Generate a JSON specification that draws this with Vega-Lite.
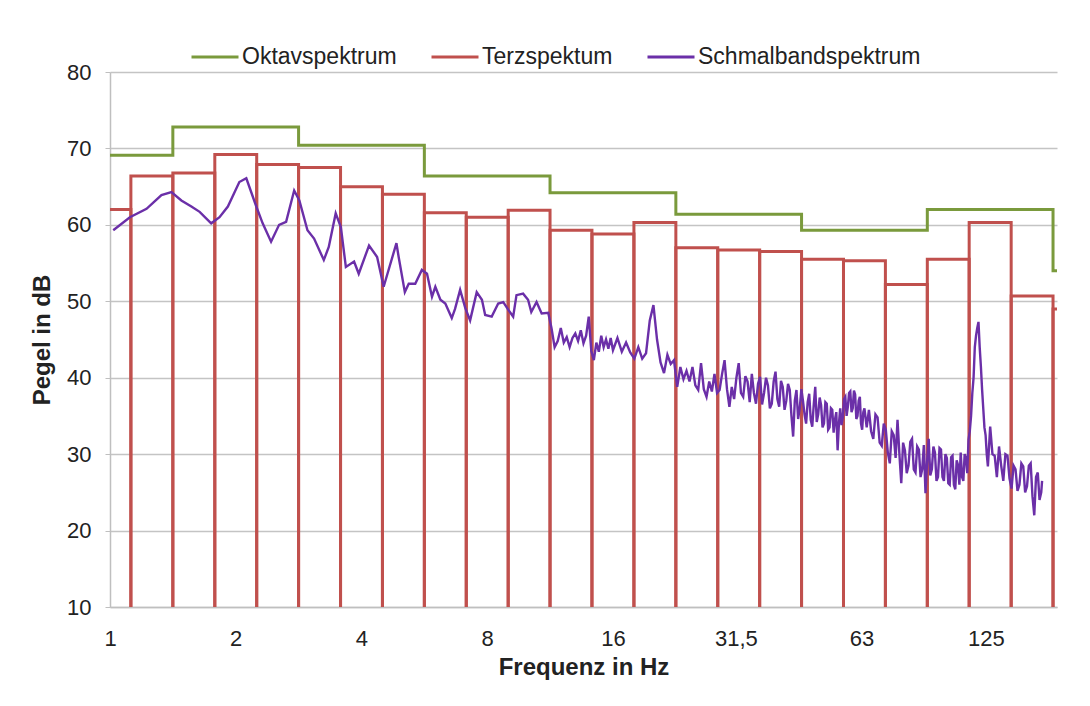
{
  "$schema": "https://vega.github.io/schema/vega-lite/v6.json",
  "width": 947,
  "height": 535,
  "autosize": "none",
  "padding": {"left": 110, "top": 72, "right": 33, "bottom": 99},
  "background": "white",
  "config": {
    "font": "Liberation Sans",
    "view": {"stroke": null},
    "axis": {"labelColor": "#222222", "titleColor": "#222222", "domainColor": "#BFBFBF", "domainWidth": 1.5, "tickColor": "#BFBFBF"}
  },
  "datasets": {
    "oktav": [
      {"f": 0.707, "db": 69.1},
      {"f": 1.414, "db": 72.8},
      {"f": 2.828, "db": 70.4},
      {"f": 5.657, "db": 66.4},
      {"f": 11.31, "db": 64.2},
      {"f": 22.63, "db": 61.4},
      {"f": 45.25, "db": 59.3},
      {"f": 90.51, "db": 62.0},
      {"f": 181.0, "db": 54.0},
      {"f": 362.0, "db": 54.0}
    ],
    "terz": [
      {"lo": 0.891, "hi": 1.122, "db": 62.0},
      {"lo": 1.122, "hi": 1.414, "db": 66.4},
      {"lo": 1.414, "hi": 1.782, "db": 66.8},
      {"lo": 1.782, "hi": 2.245, "db": 69.2},
      {"lo": 2.245, "hi": 2.828, "db": 67.9},
      {"lo": 2.828, "hi": 3.564, "db": 67.5},
      {"lo": 3.564, "hi": 4.490, "db": 65.0},
      {"lo": 4.490, "hi": 5.657, "db": 64.0},
      {"lo": 5.657, "hi": 7.127, "db": 61.6},
      {"lo": 7.127, "hi": 8.980, "db": 61.0},
      {"lo": 8.980, "hi": 11.31, "db": 61.9},
      {"lo": 11.31, "hi": 14.25, "db": 59.3},
      {"lo": 14.25, "hi": 17.96, "db": 58.8},
      {"lo": 17.96, "hi": 22.63, "db": 60.3},
      {"lo": 22.63, "hi": 28.51, "db": 57.0},
      {"lo": 28.51, "hi": 35.92, "db": 56.7},
      {"lo": 35.92, "hi": 45.25, "db": 56.5},
      {"lo": 45.25, "hi": 57.02, "db": 55.5},
      {"lo": 57.02, "hi": 71.84, "db": 55.3},
      {"lo": 71.84, "hi": 90.51, "db": 52.2},
      {"lo": 90.51, "hi": 114.0, "db": 55.5},
      {"lo": 114.0, "hi": 143.7, "db": 60.3},
      {"lo": 143.7, "hi": 181.0, "db": 50.7},
      {"lo": 181.0, "hi": 228.1, "db": 49.0}
    ],
    "schmal": [
      {"f": 1.018, "db": 59.3}, {"f": 1.116, "db": 61.0}, {"f": 1.223, "db": 62.1}, {"f": 1.328, "db": 63.9},
      {"f": 1.403, "db": 64.3}, {"f": 1.482, "db": 63.2}, {"f": 1.566, "db": 62.4}, {"f": 1.639, "db": 61.7},
      {"f": 1.747, "db": 60.2}, {"f": 1.829, "db": 61.0}, {"f": 1.915, "db": 62.4}, {"f": 2.04, "db": 65.6},
      {"f": 2.12, "db": 66.1}, {"f": 2.24, "db": 62.4}, {"f": 2.32, "db": 60.2}, {"f": 2.43, "db": 57.8},
      {"f": 2.54, "db": 60.0}, {"f": 2.64, "db": 60.4}, {"f": 2.76, "db": 64.5}, {"f": 2.84, "db": 63.2},
      {"f": 2.97, "db": 59.3}, {"f": 3.08, "db": 58.2}, {"f": 3.25, "db": 55.4}, {"f": 3.34, "db": 57.1},
      {"f": 3.47, "db": 61.5}, {"f": 3.57, "db": 59.7}, {"f": 3.67, "db": 54.5}, {"f": 3.84, "db": 55.2},
      {"f": 3.94, "db": 53.6}, {"f": 4.17, "db": 57.3}, {"f": 4.36, "db": 55.8}, {"f": 4.52, "db": 51.9},
      {"f": 4.85, "db": 57.6}, {"f": 4.91, "db": 55.8}, {"f": 5.08, "db": 51.2}, {"f": 5.19, "db": 52.3},
      {"f": 5.38, "db": 52.3}, {"f": 5.58, "db": 54.1}, {"f": 5.74, "db": 53.6}, {"f": 5.90, "db": 50.6},
      {"f": 6.01, "db": 51.9}, {"f": 6.18, "db": 50.2}, {"f": 6.35, "db": 49.7}, {"f": 6.58, "db": 47.8},
      {"f": 6.70, "db": 49.0}, {"f": 6.89, "db": 51.5}, {"f": 7.09, "db": 49.1}, {"f": 7.28, "db": 47.5},
      {"f": 7.55, "db": 51.2}, {"f": 7.77, "db": 50.2}, {"f": 7.91, "db": 48.2}, {"f": 8.20, "db": 48.0},
      {"f": 8.50, "db": 49.7}, {"f": 8.74, "db": 49.9}, {"f": 8.98, "db": 48.9}, {"f": 9.23, "db": 48.0},
      {"f": 9.40, "db": 50.8}, {"f": 9.75, "db": 51.0}, {"f": 10.02, "db": 50.2}, {"f": 10.2, "db": 48.6},
      {"f": 10.5, "db": 49.9}, {"f": 10.8, "db": 48.4},
      {"f": 11.2, "db": 48.5}, {"f": 11.4, "db": 46.5}, {"f": 11.6, "db": 44.0}, {"f": 11.8, "db": 44.8},
      {"f": 12.0, "db": 46.5}, {"f": 12.2, "db": 44.6}, {"f": 12.4, "db": 45.3}, {"f": 12.6, "db": 44.0},
      {"f": 12.8, "db": 45.2}, {"f": 13.0, "db": 45.8}, {"f": 13.2, "db": 44.8}, {"f": 13.4, "db": 46.2},
      {"f": 13.6, "db": 44.5}, {"f": 13.8, "db": 45.5}, {"f": 14.0, "db": 48.0}, {"f": 14.2, "db": 43.5},
      {"f": 14.4, "db": 42.3}, {"f": 14.6, "db": 44.6}, {"f": 14.8, "db": 43.4}, {"f": 15.0, "db": 45.5},
      {"f": 15.2, "db": 44.0}, {"f": 15.4, "db": 45.0}, {"f": 15.6, "db": 43.8}, {"f": 15.8, "db": 45.2},
      {"f": 16.0, "db": 43.6},
      {"f": 16.4, "db": 45.2}, {"f": 16.8, "db": 43.4}, {"f": 17.2, "db": 44.6}, {"f": 17.6, "db": 43.3},
      {"f": 18.0, "db": 42.5}, {"f": 18.4, "db": 44.0}, {"f": 18.8, "db": 42.5}, {"f": 19.2, "db": 43.2},
      {"f": 19.6, "db": 47.5}, {"f": 20.0, "db": 49.5}, {"f": 20.4, "db": 45.0}, {"f": 20.8, "db": 42.0},
      {"f": 21.2, "db": 40.6}, {"f": 21.6, "db": 43.0}, {"f": 22.0, "db": 41.8}, {"f": 22.4, "db": 42.3},
      {"f": 22.8, "db": 38.8}, {"f": 23.2, "db": 41.4}, {"f": 23.6, "db": 39.8}, {"f": 24.0, "db": 40.9},
      {"f": 24.4, "db": 39.5}, {"f": 24.8, "db": 41.4}, {"f": 25.2, "db": 39.0}, {"f": 25.6, "db": 38.4},
      {"f": 26.0, "db": 41.9}, {"f": 26.4, "db": 38.5}, {"f": 26.8, "db": 37.5}, {"f": 27.2, "db": 39.5},
      {"f": 27.6, "db": 38.2}, {"f": 28.0, "db": 40.5}, {"f": 28.4, "db": 38.0}, {"f": 28.8, "db": 38.4},
      {"f": 29.2, "db": 40.5}, {"f": 29.6, "db": 42.3}, {"f": 30.0, "db": 38.5}, {"f": 30.4, "db": 36.2},
      {"f": 30.8, "db": 38.8}, {"f": 31.2, "db": 37.2}, {"f": 31.6, "db": 40.0}, {"f": 32.0, "db": 41.9},
      {"f": 32.4, "db": 38.0}, {"f": 32.8, "db": 37.5}, {"f": 33.2, "db": 40.2}, {"f": 33.6, "db": 39.5},
      {"f": 34.0, "db": 36.8}, {"f": 34.4, "db": 40.5}, {"f": 34.8, "db": 38.0}, {"f": 35.2, "db": 36.6},
      {"f": 35.6, "db": 39.2}, {"f": 36.0, "db": 40.1}, {"f": 36.4, "db": 36.5}, {"f": 36.8, "db": 38.0},
      {"f": 37.2, "db": 40.0}, {"f": 37.6, "db": 39.0}, {"f": 38.0, "db": 36.0}, {"f": 38.4, "db": 36.6},
      {"f": 38.8, "db": 39.5}, {"f": 39.2, "db": 40.8}, {"f": 39.6, "db": 37.2}, {"f": 40.0, "db": 36.2},
      {"f": 40.4, "db": 39.6}, {"f": 40.8, "db": 38.8}, {"f": 41.2, "db": 35.8}, {"f": 41.6, "db": 37.0},
      {"f": 42.0, "db": 39.2}, {"f": 42.4, "db": 38.4}, {"f": 42.8, "db": 35.0}, {"f": 43.2, "db": 32.3},
      {"f": 43.6, "db": 37.0}, {"f": 44.0, "db": 38.4}, {"f": 44.4, "db": 34.6}, {"f": 44.8, "db": 36.0},
      {"f": 45.2, "db": 38.5}, {"f": 45.6, "db": 37.0}, {"f": 46.0, "db": 35.2}, {"f": 46.4, "db": 34.0},
      {"f": 46.8, "db": 36.8}, {"f": 47.2, "db": 37.9}, {"f": 47.6, "db": 34.5}, {"f": 48.0, "db": 33.6},
      {"f": 48.4, "db": 36.5}, {"f": 48.8, "db": 38.8}, {"f": 49.2, "db": 34.2}, {"f": 49.6, "db": 35.2},
      {"f": 50.0, "db": 37.4}, {"f": 50.4, "db": 36.4}, {"f": 50.8, "db": 33.5}, {"f": 51.2, "db": 34.0},
      {"f": 51.6, "db": 36.8}, {"f": 52.0, "db": 36.6}, {"f": 52.4, "db": 33.2}, {"f": 52.8, "db": 33.5},
      {"f": 53.2, "db": 36.0}, {"f": 53.6, "db": 35.8}, {"f": 54.0, "db": 32.8}, {"f": 54.4, "db": 34.5},
      {"f": 54.8, "db": 35.5}, {"f": 55.2, "db": 30.5}, {"f": 55.6, "db": 34.0}, {"f": 56.0, "db": 36.0},
      {"f": 56.4, "db": 33.8}, {"f": 56.8, "db": 34.8}, {"f": 57.2, "db": 37.2}, {"f": 57.6, "db": 37.5},
      {"f": 58.0, "db": 35.0}, {"f": 58.4, "db": 36.2}, {"f": 58.8, "db": 38.0}, {"f": 59.2, "db": 38.2},
      {"f": 59.6, "db": 35.5}, {"f": 60.0, "db": 36.0}, {"f": 60.4, "db": 38.3}, {"f": 60.8, "db": 37.8},
      {"f": 61.2, "db": 34.6}, {"f": 61.6, "db": 35.0}, {"f": 62.0, "db": 37.0}, {"f": 62.4, "db": 37.5},
      {"f": 62.8, "db": 34.0}, {"f": 63.2, "db": 33.2}, {"f": 63.6, "db": 35.5}, {"f": 64.0, "db": 36.0},
      {"f": 64.8, "db": 33.5}, {"f": 65.6, "db": 35.8}, {"f": 66.4, "db": 33.0}, {"f": 67.2, "db": 32.0},
      {"f": 68.0, "db": 35.2}, {"f": 68.8, "db": 34.8}, {"f": 69.6, "db": 31.5}, {"f": 70.4, "db": 31.1},
      {"f": 71.2, "db": 34.0}, {"f": 72.0, "db": 33.2}, {"f": 72.8, "db": 30.2}, {"f": 73.6, "db": 28.8},
      {"f": 74.4, "db": 33.0}, {"f": 75.2, "db": 32.5}, {"f": 76.0, "db": 29.5}, {"f": 76.8, "db": 34.5},
      {"f": 77.6, "db": 30.0}, {"f": 78.4, "db": 26.2}, {"f": 79.2, "db": 31.5}, {"f": 80.0, "db": 30.5},
      {"f": 80.8, "db": 27.5}, {"f": 81.6, "db": 28.5}, {"f": 82.4, "db": 31.6}, {"f": 83.2, "db": 32.0},
      {"f": 84.0, "db": 28.0}, {"f": 84.8, "db": 27.6}, {"f": 85.6, "db": 31.0}, {"f": 86.4, "db": 30.6},
      {"f": 87.2, "db": 27.0}, {"f": 88.0, "db": 28.0}, {"f": 88.8, "db": 31.2}, {"f": 89.6, "db": 24.9},
      {"f": 90.4, "db": 29.0}, {"f": 91.2, "db": 32.0}, {"f": 92.0, "db": 27.2}, {"f": 92.8, "db": 28.0},
      {"f": 93.6, "db": 31.0}, {"f": 94.4, "db": 30.2}, {"f": 95.2, "db": 26.5}, {"f": 96.0, "db": 27.0},
      {"f": 96.8, "db": 30.8}, {"f": 97.6, "db": 30.6}, {"f": 98.4, "db": 27.0}, {"f": 99.2, "db": 26.5},
      {"f": 100.0, "db": 30.0}, {"f": 100.8, "db": 29.5}, {"f": 101.6, "db": 26.2}, {"f": 102.4, "db": 26.0},
      {"f": 103.2, "db": 29.6}, {"f": 104.0, "db": 29.8}, {"f": 104.8, "db": 26.0}, {"f": 105.6, "db": 25.4},
      {"f": 106.4, "db": 29.2}, {"f": 107.2, "db": 28.6}, {"f": 108.0, "db": 26.0}, {"f": 108.8, "db": 30.2},
      {"f": 109.6, "db": 27.0}, {"f": 110.4, "db": 26.5}, {"f": 111.2, "db": 30.0}, {"f": 112.0, "db": 29.5},
      {"f": 112.8, "db": 27.5}, {"f": 113.6, "db": 31.9}, {"f": 114.4, "db": 33.0}, {"f": 115.2, "db": 35.0},
      {"f": 116.0, "db": 38.0}, {"f": 116.8, "db": 40.0}, {"f": 117.6, "db": 44.0}, {"f": 118.4, "db": 45.5},
      {"f": 119.2, "db": 46.5}, {"f": 120.0, "db": 47.3}, {"f": 120.8, "db": 44.0}, {"f": 121.6, "db": 41.5},
      {"f": 122.4, "db": 38.5}, {"f": 123.2, "db": 36.0}, {"f": 124.0, "db": 33.5}, {"f": 124.8, "db": 32.5},
      {"f": 125.6, "db": 30.0}, {"f": 126.4, "db": 28.4}, {"f": 127.2, "db": 31.0}, {"f": 128.0, "db": 33.6},
      {"f": 129.6, "db": 30.0}, {"f": 131.2, "db": 29.8}, {"f": 132.8, "db": 27.0}, {"f": 134.4, "db": 31.0},
      {"f": 136.0, "db": 28.5}, {"f": 137.6, "db": 26.5}, {"f": 139.2, "db": 30.0}, {"f": 140.8, "db": 29.8},
      {"f": 142.4, "db": 26.8}, {"f": 144.0, "db": 25.5}, {"f": 145.6, "db": 28.5}, {"f": 147.2, "db": 28.0},
      {"f": 148.8, "db": 25.2}, {"f": 150.4, "db": 26.0}, {"f": 152.0, "db": 28.8}, {"f": 153.6, "db": 28.4},
      {"f": 155.2, "db": 25.0}, {"f": 156.8, "db": 25.8}, {"f": 158.4, "db": 28.5}, {"f": 160.0, "db": 28.8},
      {"f": 161.6, "db": 24.5}, {"f": 163.2, "db": 22.0}, {"f": 164.8, "db": 27.0}, {"f": 166.4, "db": 27.6},
      {"f": 168.0, "db": 24.0}, {"f": 169.6, "db": 25.0}, {"f": 170.4, "db": 26.5}
    ]
  },
  "layer": [
    {
      "data": {"name": "oktav"},
      "mark": {"type": "line", "interpolate": "step-after", "strokeWidth": 3, "clip": true},
      "encoding": {
        "x": {
          "field": "f", "type": "quantitative",
          "scale": {"type": "log", "base": 2, "domain": [1, 185], "nice": false},
          "axis": {
            "values": [1, 2, 4, 8, 16, 31.5, 63, 125],
            "labelExpr": "replace(toString(datum.value), '.', ',')",
            "grid": false, "ticks": false,
            "labelFontSize": 22, "labelPadding": 21, "labelFlush": false,
            "title": "Frequenz in Hz", "titleFontSize": 24, "titleFontWeight": "bold", "titlePadding": 6
          }
        },
        "y": {
          "field": "db", "type": "quantitative",
          "scale": {"domain": [10, 80], "nice": false, "zero": false},
          "axis": {
            "values": [10, 20, 30, 40, 50, 60, 70, 80],
            "grid": true, "gridColor": "#C4C4C4", "gridWidth": 1.5,
            "tickSize": 5, "labelFontSize": 22, "labelPadding": 14,
            "title": "Pegel in dB", "titleFontSize": 24, "titleFontWeight": "bold", "titlePadding": 12
          }
        },
        "stroke": {
          "datum": "Oktavspektrum", "type": "nominal",
          "scale": {"domain": ["Oktavspektrum", "Terzspektum", "Schmalbandspektrum"], "range": ["#7A9A3C", "#C0504D", "#6B2FA8"]},
          "legend": {
            "orient": "none", "legendX": 80, "legendY": -40, "direction": "horizontal",
            "title": null, "symbolType": "stroke", "symbolSize": 2209, "symbolStrokeWidth": 3,
            "labelFontSize": 23, "labelColor": "#222222", "labelOffset": 2, "labelLimit": 400, "columnPadding": 28
          }
        }
      }
    },
    {
      "data": {"name": "terz"},
      "mark": {"type": "rect", "filled": false, "strokeWidth": 3, "clip": true},
      "encoding": {
        "x": {"field": "lo", "type": "quantitative"},
        "x2": {"field": "hi"},
        "y": {"field": "db", "type": "quantitative"},
        "y2": {"datum": 9},
        "stroke": {"datum": "Terzspektum", "type": "nominal"}
      }
    },
    {
      "data": {"name": "schmal"},
      "mark": {"type": "line", "strokeWidth": 2.4, "clip": true},
      "encoding": {
        "x": {"field": "f", "type": "quantitative"},
        "y": {"field": "db", "type": "quantitative"},
        "stroke": {"datum": "Schmalbandspektrum", "type": "nominal"}
      }
    }
  ]
}
